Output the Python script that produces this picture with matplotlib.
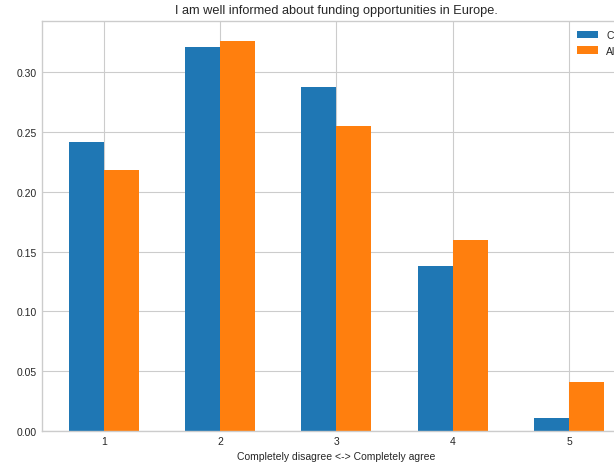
import numpy as np
import matplotlib
matplotlib.use("Agg")
import matplotlib.pyplot as plt

plt.style.use('seaborn-v0_8-whitegrid')
plt.rcParams['font.family'] = ['Liberation Sans', 'DejaVu Sans']

categories = [1, 2, 3, 4, 5]
ch = [0.2414, 0.3216, 0.2874, 0.1378, 0.0109]
all_ = [0.2180, 0.3267, 0.2548, 0.1596, 0.0409]

fig = plt.figure(figsize=(6.14, 4.64), dpi=100)
ax = fig.add_axes([0.0684, 0.069, 0.959, 0.8836])

x = np.array(categories)
w = 0.3
ax.bar(x - w/2, ch, w, label='CH', color='#1f77b4')
ax.bar(x + w/2, all_, w, label='All', color='#ff7f0e')

ax.set_xticks(x)
ax.set_xticklabels([str(c) for c in categories])
ax.tick_params(labelsize=7.5, colors='#262626')
ax.set_xlabel('Completely disagree <-> Completely agree', fontsize=7.5, color='#262626')
ax.set_title('I am well informed about funding opportunities in Europe.', fontsize=9.2, color='#262626')
ax.legend(loc='upper right', fontsize=7.5)

fig.savefig('out.png', dpi=100)
